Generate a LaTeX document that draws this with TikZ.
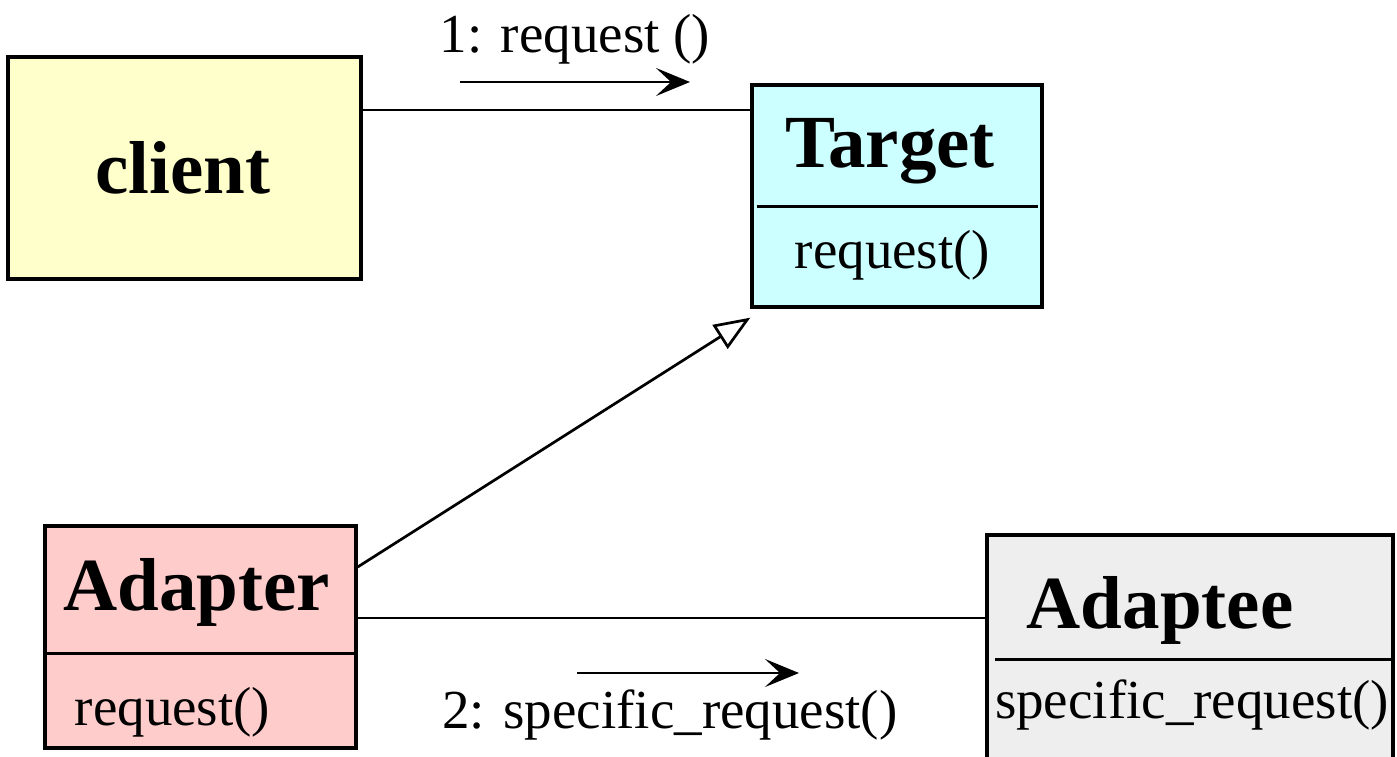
\documentclass[tikz,border=0pt]{standalone}
\usepackage{fontspec}
\setmainfont{Liberation Serif}
\usetikzlibrary{arrows.meta,calc}
\definecolor{clientfill}{HTML}{FFFFCC}
\definecolor{targetfill}{HTML}{CCFFFF}
\definecolor{adapterfill}{HTML}{FFCCCC}
\definecolor{adapteefill}{HTML}{EEEEEE}
\tikzset{
  box/.style={draw=black, line width=3.3pt, rectangle, inner sep=0pt},
  bigtxt/.style={font=\fontsize{75}{80}\selectfont\bfseries, inner sep=0pt},
  smalltxt/.style={font=\fontsize{55}{60}\selectfont, inner sep=0pt},
  link/.style={line width=2.7pt},
  msg/.style={line width=2.7pt, -{Stealth[length=34pt,width=28pt,inset=15pt]}},
  gen/.style={line width=2.7pt, -{Triangle[length=36pt,width=28pt,fill=white]}},
  divider/.style={line width=3pt}
}
\begin{document}
\begin{tikzpicture}[x=1pt,y=-1pt]
\clip (0,0) rectangle (1397,756);
\fill[white] (0,0) rectangle (1397,756);

% boxes
\node[box, fill=clientfill, minimum width=353pt, minimum height=222pt] (client) at (184.5,168) {};
\node[box, fill=targetfill, minimum width=290pt, minimum height=222pt] (target) at (897,196) {};
\node[box, fill=adapterfill, minimum width=311pt, minimum height=222pt] (adapter) at (200.5,637) {};
\node[box, fill=adapteefill, minimum width=406pt, minimum height=300pt] (adaptee) at (1190,685) {};

% dividers
\draw[divider] (757,206) -- (1038,206);
\draw[divider] (47,653) -- (354,653);
\draw[divider] (995,659) -- (1395,659);

% texts
\node[bigtxt, anchor=base] (clientname) at (183,193) {client};
\node[bigtxt, anchor=base] (targetname) at (890,167) {Target};
\node[smalltxt, anchor=base] (targetop) at (892.5,268) {request()};
\node[bigtxt, anchor=base] (adaptername) at (196.5,610) {Adapter};
\node[smalltxt, anchor=base] (adapterop) at (172.5,725) {request()};
\node[bigtxt, anchor=base] (adapteename) at (1160,628) {Adaptee};
\node[smalltxt, anchor=base] (adapteeop) at (1192,718) {specific\_request()};

% connectors
\draw[link] ([yshift=58pt]client.east) -- ([yshift=58pt]client.east -| target.west);
\draw[link] ([yshift=19pt]adapter.east) -- ([yshift=19pt]adapter.east -| adaptee.west);
\coordinate (gentip) at ([yshift=-9pt]target.south west);
\draw[gen] ([yshift=70pt]adapter.east) -- (gentip);

% messages
\coordinate (m1s) at (460,82);
\coordinate (m1e) at (690,82);
\draw[msg] (m1s) -- (m1e);
\node[smalltxt, anchor=base] (m1label) at (575,52) {1: request ()};
\coordinate (m2s) at (577,673);
\coordinate (m2e) at (799,673);
\draw[msg] (m2s) -- (m2e);
\node[smalltxt, anchor=base] (m2label) at (670,728) {2: specific\_request()};
\end{tikzpicture}
\end{document}
